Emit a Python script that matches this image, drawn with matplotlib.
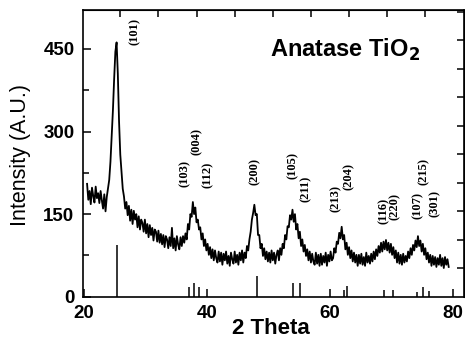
import numpy as np
import matplotlib
matplotlib.use("Agg")
import matplotlib.pyplot as plt

# ---------------------------------------------------------------
# data
# ---------------------------------------------------------------

# scan: first angle and step (deg 2theta), intensities read point by point
scan_start, scan_step = 20.5, 0.2
intensity = [
    205, 176, 192, 168, 198, 183, 171, 200, 179, 188,
    170, 192, 175, 160, 186, 155, 181, 196, 212, 245,
    292, 338, 395, 445, 462, 405, 318, 258, 228, 196,
    182, 160, 172, 148, 165, 138, 158, 132, 156, 140,
    150, 126, 146, 122, 140, 134, 118, 140, 115, 132,
    108, 130, 112, 125, 102, 122, 118, 100, 120, 98,
    114, 95, 112, 90, 110, 104, 88, 108, 92, 125,
    88, 106, 84, 110, 95, 86, 108, 92, 110, 98,
    115, 104, 132, 122, 150, 145, 172, 150, 162, 135,
    140, 122, 126, 104, 115, 92, 104, 84, 96, 76,
    90, 70, 86, 66, 84, 70, 62, 82, 64, 80,
    58, 78, 66, 82, 60, 74, 56, 80, 68, 60,
    82, 62, 76, 58, 80, 66, 84, 62, 80, 70,
    92, 84, 104, 118, 140, 152, 167, 148, 150, 112,
    112, 88, 96, 74, 88, 68, 82, 64, 80, 62,
    84, 66, 80, 60, 76, 84, 66, 88, 76, 96,
    88, 112, 104, 128, 126, 148, 140, 158, 136, 150,
    122, 132, 106, 118, 92, 104, 82, 94, 74, 86,
    66, 82, 62, 78, 64, 58, 80, 60, 76, 56,
    78, 58, 74, 62, 80, 56, 76, 64, 82, 66,
    70, 88, 80, 100, 96, 116, 106, 127, 104, 112,
    86, 98, 76, 90, 70, 84, 64, 80, 62, 76,
    56, 76, 60, 78, 58, 72, 56, 80, 62, 74,
    60, 78, 64, 82, 68, 86, 74, 92, 80, 98,
    82, 100, 86, 103, 84, 98, 80, 96, 76, 90,
    70, 84, 62, 80, 60, 76, 58, 78, 62, 74,
    64, 82, 70, 88, 76, 94, 84, 102, 90, 110,
    92, 102, 82, 96, 76, 88, 68, 80, 62, 76,
    56, 74, 58, 72, 54, 70, 58, 76, 56, 70,
    52, 72, 58, 68, 54,
]
two_theta = scan_start + scan_step * np.arange(len(intensity))

# reference pattern (anatase), stick positions and heights
ref_pos = [25.4, 37.0, 37.9, 38.7, 48.1, 54.0, 55.2, 62.2, 62.8, 68.8, 70.3, 74.1, 75.1, 76.1]
ref_height = [94, 17, 25, 17, 38, 25, 25, 12, 19, 13, 13, 9, 17, 11]

# peak labels: text, x, y (data units)
hkl_text = ["(101)", "(103)", "(004)", "(112)", "(200)", "(105)", "(211)",
            "(213)", "(204)", "(116)", "(220)", "(107)", "(215)", "(301)"]
hkl_x = [28.3, 36.4, 38.4, 40.1, 47.7, 54.0, 56.0, 60.9, 63.0, 68.7, 70.6, 74.3, 75.2, 77.1]
hkl_y = [481, 223, 281, 221, 227, 238, 196, 179, 219, 156, 163, 165, 227, 170]

# ---------------------------------------------------------------
# plot
# ---------------------------------------------------------------
plt.rcParams['font.family'] = ['Liberation Sans', 'DejaVu Sans']

fig = plt.figure(figsize=(4.65, 3.41), dpi=100)
ax = fig.add_axes([0.178, 0.130, 0.820, 0.841])

ax.plot(two_theta, intensity, color="black", lw=1.3)
ax.vlines(ref_pos, 0, ref_height, color="black", lw=1.1)

for t, x, y in zip(hkl_text, hkl_x, hkl_y):
    ax.text(x, y, t, rotation=90, ha="center", va="center",
            family="Liberation Serif", fontweight="bold", fontsize=9)

ax.text(50.3, 448, "Anatase TiO$_\\mathbf{2}$", ha="left", va="center",
        fontsize=17, fontweight="bold")

ax.set_xlim(19.8, 81.8)
ax.set_ylim(0, 521)

ax.set_xticks([20, 40, 60, 80])
ax.set_yticks([0, 150, 300, 450])
ax.set_yticks([75, 225, 375], minor=True)
ax.tick_params(direction="in", length=6, width=1.1, labelsize=13.5, pad=6)
ax.tick_params(which="minor", direction="in", length=4, width=1.1)
for lab in ax.get_xticklabels() + ax.get_yticklabels():
    lab.set_fontweight("bold")

for s in ax.spines.values():
    s.set_linewidth(1.2)

# top and right axes have their own tick spacing
top = ax.secondary_xaxis("top")
top.set_xticks([25.9 + 6.2 * k for k in range(9)])
top.set_xticklabels([])
top.tick_params(direction="in", length=5, width=1.1)
right = ax.secondary_yaxis("right")
right.set_yticks([51.8 * k for k in range(1, 11)])
right.set_yticklabels([])
right.tick_params(direction="in", length=5, width=1.1)

fig.text(21 / 465, 0.545, "Intensity (A.U.)", rotation=90, ha="center", va="center",
         fontsize=15.5)
fig.text(0.583, 0.038, "2 Theta", ha="center", va="center", fontsize=16,
         fontweight="bold")

fig.savefig("out.png", dpi=100)
